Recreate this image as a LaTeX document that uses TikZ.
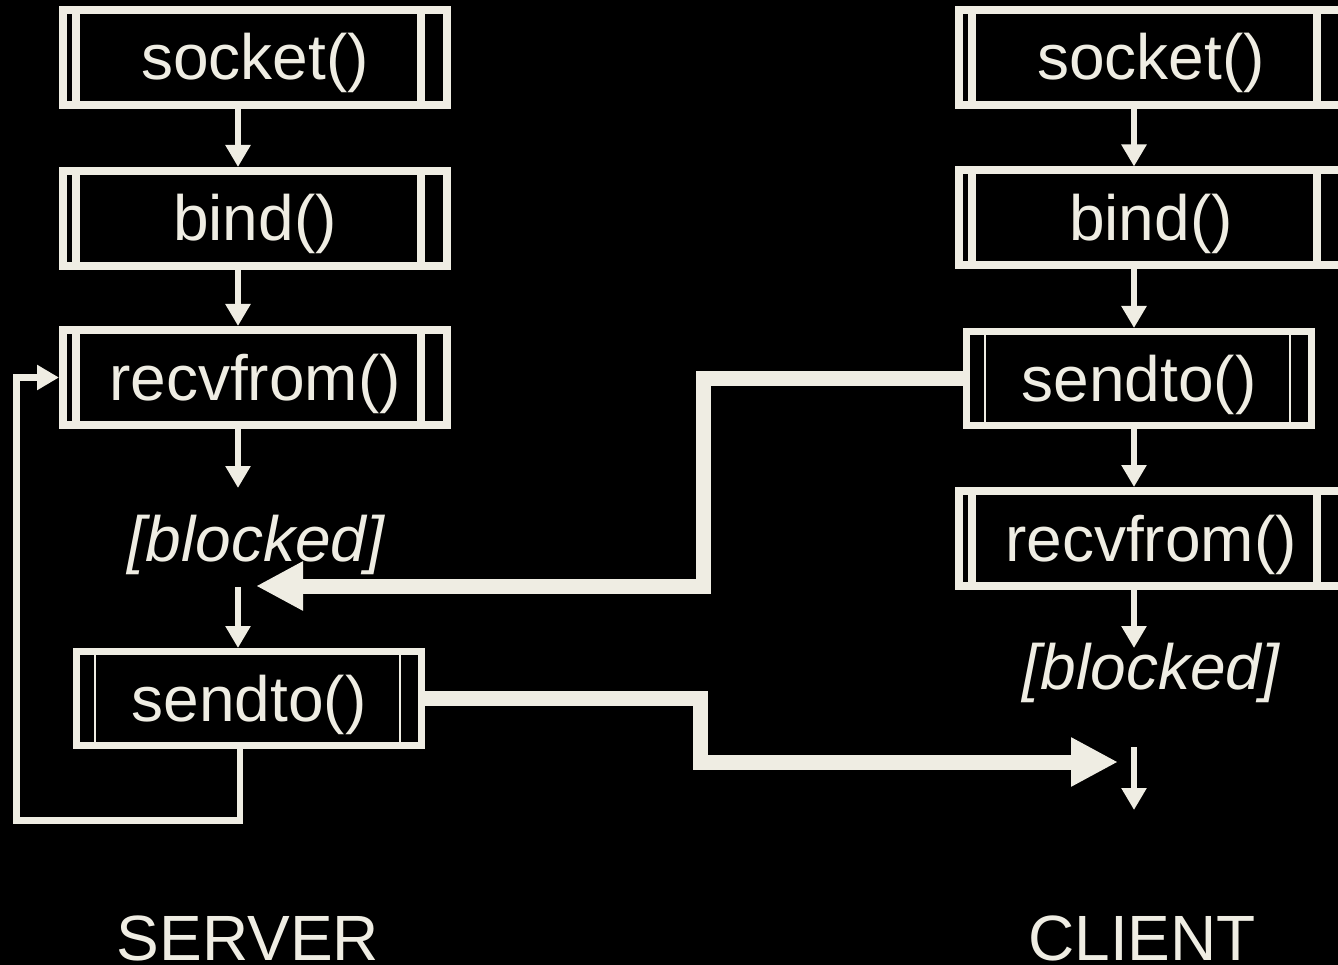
\documentclass[tikz,border=0pt]{standalone}
\usepackage{fontspec}
\setmainfont{Liberation Sans}
\usetikzlibrary{arrows.meta,calc}
\definecolor{cream}{RGB}{239,237,227}
\newcommand\dbars[1]{%
  \draw[cream,line width=8pt] ($(#1.north west)+(17,4)$) -- ($(#1.south west)+(17,-4)$);
  \draw[cream,line width=7.5pt] ($(#1.north east)+(-30,4)$) -- ($(#1.south east)+(-30,-4)$);}
\newcommand\sbars[1]{%
  \draw[cream,line width=2pt] ($(#1.north west)+(21.5,4)$) -- ($(#1.south west)+(21.5,-4)$);
  \draw[cream,line width=2pt] ($(#1.north east)+(-25.5,4)$) -- ($(#1.south east)+(-25.5,-4)$);}
\begin{document}
\begin{tikzpicture}[x=1pt,y=-1pt,
  lbl/.style={text=cream, font=\fontsize{64}{72}\selectfont},
  boxtext/.style={lbl, text height=58pt, text depth=13pt, inner sep=0pt},
  dbox/.style={boxtext, draw=cream, line width=8pt, outer sep=4pt, minimum width=384pt, minimum height=95pt},
  sbox/.style={boxtext, draw=cream, line width=7pt, outer sep=3.5pt, minimum width=345pt, minimum height=94pt},
  blk/.style={lbl, font=\fontsize{64}{72}\selectfont\itshape, inner sep=0pt, outer sep=0pt, anchor=base},
  flow/.style={draw=cream, line width=6.5pt, -{Triangle[width=24pt,length=22pt]}},
  big/.style={draw=cream, line width=15pt, -{Triangle[width=46pt,length=47pt]}},
  ]
\useasboundingbox (0,0) rectangle (1338,965);
\fill[black] (0,0) rectangle (1338,965);

% server
\node[dbox] (s1) at (255,57.5) {socket()};
\node[dbox] (s2) at (255,218.5) {bind()};
\node[dbox] (s3) at (255,377.5) {recvfrom()};
\node[blk, text height=73pt, text depth=26pt] (sb) at (256,561) {[blocked]};
\node[sbox] (ss) at (249,698.5) {sendto()};
\dbars{s1}\dbars{s2}\dbars{s3}\sbars{ss}

% client
\node[dbox] (c1) at (1151,57.5) {socket()};
\node[dbox] (c2) at (1151,218) {bind()};
\node[sbox] (c3) at (1139,378.5) {sendto()};
\node[dbox] (c4) at (1151,538.5) {recvfrom()};
\node[blk, text height=41pt, text depth=58pt] (cb) at (1151,689) {[blocked]};
\dbars{c1}\dbars{c2}\sbars{c3}\dbars{c4}

\node[lbl, anchor=base] (srv) at (248,960) {SERVER};
\node[lbl, anchor=base] (cli) at (1142,960) {CLIENT};

\coordinate (sx) at (238,0);
\coordinate (cx) at (1134,0);
\coordinate (lx) at (240,0);
\coordinate (lb) at (16.5,820.5);
\coordinate (cend) at (1134,810);
\coordinate (t1) at (256,586);
\coordinate (m1) at (703.5,0);
\coordinate (t2) at (1118,762);
\coordinate (m2) at (700.5,0);

\draw[flow] (s1.south -| sx) -- (s2.north -| sx);
\draw[flow] (s2.south -| sx) -- (s3.north -| sx);
\draw[flow] (s3.south -| sx) -- (sb.north -| sx);
\draw[flow] (sb.south -| sx) -- (ss.north -| sx);
\draw[flow] (ss.south -| lx) |- (lb) |- (s3.west);

\draw[flow] (c1.south -| cx) -- (c2.north -| cx);
\draw[flow] (c2.south -| cx) -- (c3.north -| cx);
\draw[flow] (c3.south -| cx) -- (c4.north -| cx);
\draw[flow] (c4.south -| cx) -- (cb.north -| cx);
\draw[flow] (cb.south -| cx) -- (cend);

\draw[big] (c3.west) -| (m1 |- t1) -- (t1);
\draw[big] (ss.east) -| (m2 |- t2) -- (t2);
\end{tikzpicture}
\end{document}
